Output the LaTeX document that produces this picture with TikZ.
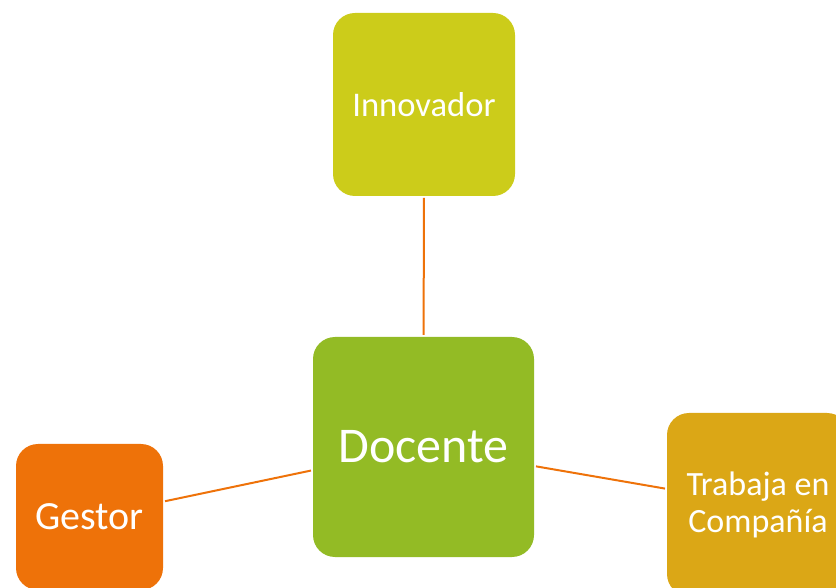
\documentclass[tikz,border=0pt]{standalone}
\usepackage{fontspec}
\setmainfont{Carlito}

\definecolor{innov}{HTML}{CCCC1A}
\definecolor{docen}{HTML}{93BB25}
\definecolor{gest}{HTML}{EE7209}
\definecolor{trab}{HTML}{DBA716}

\begin{document}
\begin{tikzpicture}
  [x=1pt, y=1pt,
   every node/.style={rounded corners=22pt, text=white, inner sep=0pt, outer sep=2pt, align=center},
   link/.style={draw=gest, line width=2pt}]

  \useasboundingbox (0,0) rectangle (836,587);
  \clip (0,0) rectangle (836,587);

  \node[fill=docen, minimum width=221pt, minimum height=220pt,
        font=\fontsize{50}{54}\selectfont] (docente) at (423.5,140) {Docente};
  \node[fill=innov, minimum width=182pt, minimum height=183pt,
        font=\fontsize{34.6}{38}\selectfont] (innovador) at (424,482.5) {Innovador};
  \node[fill=gest, minimum width=147pt, minimum height=146pt,
        font=\fontsize{40}{44}\selectfont] (gestor) at (89.5,70) {Gestor};
  \node[fill=trab, minimum width=182pt, minimum height=183pt,
        font=\fontsize{34}{37}\selectfont] (trabaja) at (758,82.5) {Trabaja en\\Compañía};

  \draw[link] (innovador) -- (docente);
  \draw[link] (gestor) -- (docente);
  \draw[link] (docente) -- (trabaja);
\end{tikzpicture}
\end{document}
